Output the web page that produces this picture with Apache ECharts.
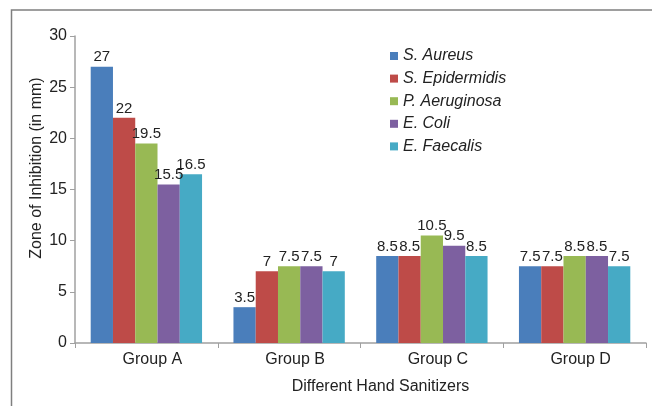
<!DOCTYPE html>
<html>
<head>
<meta charset="utf-8">
<script src="https://cdn.jsdelivr.net/npm/echarts@6/dist/echarts.min.js"></script>
<style>
  html, body { margin: 0; padding: 0; background: #fff; }
  #main { width: 652px; height: 406px; }
</style>
</head>
<body>
<div id="main"></div>
<script>
// categories on the x axis
var groups = ['Group A', 'Group B', 'Group C', 'Group D'];

// zone of inhibition (mm) per organism
var sAureus = [27, 3.5, 8.5, 7.5];
var sEpidermidis = [22, 7, 8.5, 7.5];
var pAeruginosa = [19.5, 7.5, 10.5, 8.5];
var eColi = [15.5, 7.5, 9.5, 8.5];
var eFaecalis = [16.5, 7, 8.5, 7.5];

var names = ['S. Aureus', 'S. Epidermidis', 'P. Aeruginosa', 'E. Coli', 'E. Faecalis'];
var colors = ['#4a7ebb', '#be4b48', '#98b954', '#7d60a0', '#46aac5'];
var allData = [sAureus, sEpidermidis, pAeruginosa, eColi, eFaecalis];

var font = 'Liberation Sans, Arial, sans-serif';

var chart = echarts.init(document.getElementById('main'), null, {renderer: 'canvas'});

var series = names.map(function (n, i) {
    return {
        name: n,
        type: 'bar',
        data: allData[i],
        barGap: '0%',
        barCategoryGap: '22%',
        itemStyle: {color: colors[i]},
        label: {
            show: true,
            position: 'top',
            distance: 2,
            color: '#222',
            fontSize: 15,
            fontFamily: font
        }
    };
});

chart.setOption({
    animation: false,
    color: colors,
    textStyle: {fontFamily: font},
    graphic: [{
        type: 'rect',
        shape: {x: 11.5, y: 10, width: 700, height: 500},
        style: {fill: 'none', stroke: '#7f7f7f', lineWidth: 1.5},
        silent: true
    }],
    grid: {left: 75, right: 6, top: 36, bottom: 63},
    legend: {
        orient: 'vertical',
        left: 385,
        top: 43,
        itemWidth: 8,
        itemHeight: 8,
        itemGap: 6.6,
        icon: 'rect',
        textStyle: {
            fontSize: 16,
            lineHeight: 16,
            fontStyle: 'italic',
            color: '#222',
            fontFamily: font
        },
        data: names
    },
    xAxis: {
        type: 'category',
        data: groups,
        name: 'Different Hand Sanitizers',
        nameLocation: 'middle',
        nameGap: 36,
        nameTextStyle: {fontSize: 16, color: '#222', padding: [0, 0, 0, 40]},
        axisLine: {lineStyle: {color: '#a0a0a0', width: 1.5}},
        axisTick: {show: true, length: 5, lineStyle: {color: '#a0a0a0'}},
        axisLabel: {fontSize: 16, color: '#222', margin: 9, padding: [0, 0, 0, 12]}
    },
    yAxis: {
        type: 'value',
        min: 0,
        max: 30,
        interval: 5,
        name: 'Zone of Inhibition (in mm)',
        nameLocation: 'middle',
        nameGap: 30,
        nameMoveOverlap: false,
        nameTextStyle: {fontSize: 16, color: '#222', padding: [0, 0, 0, 43]},
        splitLine: {show: false},
        axisLine: {show: true, lineStyle: {color: '#a0a0a0', width: 1.5}},
        axisTick: {show: true, length: 5, lineStyle: {color: '#a0a0a0'}},
        axisLabel: {fontSize: 16, color: '#222', margin: 8}
    },
    series: series
});
</script>
</body>
</html>
